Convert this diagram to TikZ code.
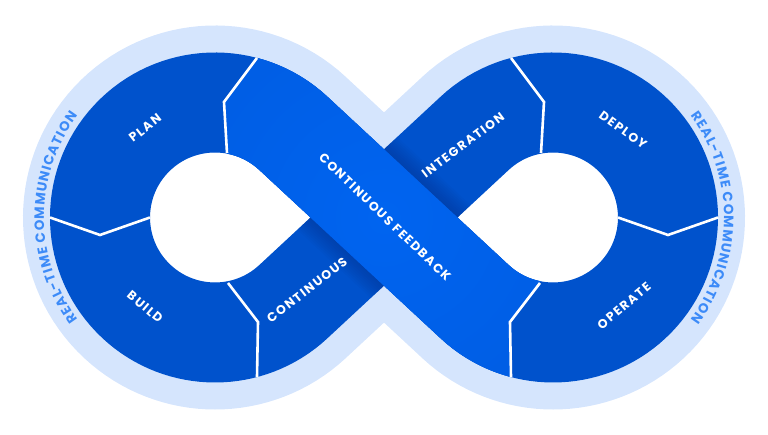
\documentclass[tikz,border=0pt]{standalone}
\usepackage{fontspec}
\usetikzlibrary{calc, decorations.text}
\newfontfamily\labelfont[LetterSpace=12]{Poppins Bold}
\newfontfamily\rtcfont{Poppins Bold}
\definecolor{loopblue}{HTML}{0052CC}
\definecolor{ribbonblue}{HTML}{0057D8}
\definecolor{ribbonlight}{HTML}{0064F0}
\definecolor{shadowblue}{HTML}{00348F}
\definecolor{haloblue}{HTML}{D5E5FD}
\definecolor{textblue}{HTML}{3D8BF8}

\begin{document}
\begin{tikzpicture}[x=1pt, y=1pt]
	\tikzstyle{stage}=[text=white, font=\labelfont\fontsize{12.5}{12.5}\selectfont, inner sep=0pt]
	\tikzstyle{divider}=[white, line width=2.6pt, line join=miter]
	\tikzstyle{halotext}=[decorate, decoration={text along path, text align=fit to path,
	text color=textblue, text={|\rtcfont\fontsize{13.5}{13.5}\selectfont|REAL-TIME COMMUNICATION}}]

	\useasboundingbox (0,0) rectangle (768,435);
	\coordinate (c1) at (215,217.5);
	\coordinate (c2) at (553,217.5);
	\coordinate (mid) at (384,217.5);
	\coordinate (t1) at ($(c1)+(47.1:115)$);
	\coordinate (t2) at ($(c2)+(227.1:115)$);

	% halo, holes and loop
	\draw[haloblue, line width=154pt] ($(c1)+(47.1:115)$) arc[start angle=47.1, end angle=312.9, radius=115]
	-- ($(c2)+(132.9:115)$) arc[start angle=132.9, end angle=-132.9, radius=115] -- cycle;
	\fill[white] (310.5,217.5) -- ($(c1)+(47.1:65)$) arc[start angle=47.1, end angle=312.9, radius=65] -- cycle;
	\fill[white] (457.5,217.5) -- ($(c2)+(132.9:65)$) arc[start angle=132.9, end angle=-132.9, radius=65] -- cycle;
	\draw[loopblue, line width=100pt] ($(c1)+(47.1:115)$) arc[start angle=47.1, end angle=312.9, radius=115]
	-- ($(c2)+(132.9:115)$) arc[start angle=132.9, end angle=-132.9, radius=115] -- cycle;

	% shadow under the crossing
	\begin{scope}[shift={(mid)}, rotate=42.9]
		\clip (-123.8,-50) rectangle (123.8,50);
		\foreach \w in {100,104,...,136}
		\draw[shadowblue, opacity=0.06, line width=\w pt] (t1) -- (t2);
	\end{scope}

	% feedback ribbon
	\begin{scope}
		\clip ($(c1)+(75.2:165)$) arc[start angle=75.2, end angle=47.1, radius=165]
		-- ($(c2)+(227.1:65)$) arc[start angle=227.1, end angle=258.8, radius=65]
		-- (510,113) -- ($(c2)+(255.2:165)$) arc[start angle=255.2, end angle=227.1, radius=165]
		-- ($(c1)+(47.1:65)$) arc[start angle=47.1, end angle=79.5, radius=65]
		-- (224,333) -- cycle;
		\fill[ribbonblue] (0,0) rectangle (768,435);
		\shade[inner color=ribbonlight, outer color=ribbonblue] (mid) circle (420);
	\end{scope}

	% dividers
	\draw[divider] (257,377) -- (224,333) -- (227,282);
	\draw[divider] (50,217.5) -- (100,200) -- (150,217.5);
	\draw[divider] (228,152) -- (258,113) -- (257,58);
	\draw[divider] (511,377) -- (544,333) -- (541,282);
	\draw[divider] (618,217.5) -- (668,200) -- (718,217.5);
	\draw[divider] (540,152) -- (510,113) -- (511,58);

	\node[stage, rotate=38] (plan) at (145,307) {PLAN};
	\node[stage, rotate=-40] (build) at (145,128) {BUILD};
	\node[stage, rotate=38] (delivery) at (307,145) {CONTINUOUS};
	\node[stage, rotate=-44] (feedback) at (385,218) {CONTINUOUS FEEDBACK};
	\node[stage, rotate=37] (integration) at (463,290) {INTEGRATION};
	\node[stage, rotate=-36] (deploy) at (623,305) {DEPLOY};
	\node[stage, rotate=40] (operate) at (624,129) {OPERATE};

	\path[halotext] ($(c1)+(216.6:171)$) arc[start angle=216.6, end angle=143.4, radius=171];
	\path[halotext] ($(c2)+(36.6:171)$) arc[start angle=36.6, end angle=-36.6, radius=171];
\end{tikzpicture}
\end{document}
